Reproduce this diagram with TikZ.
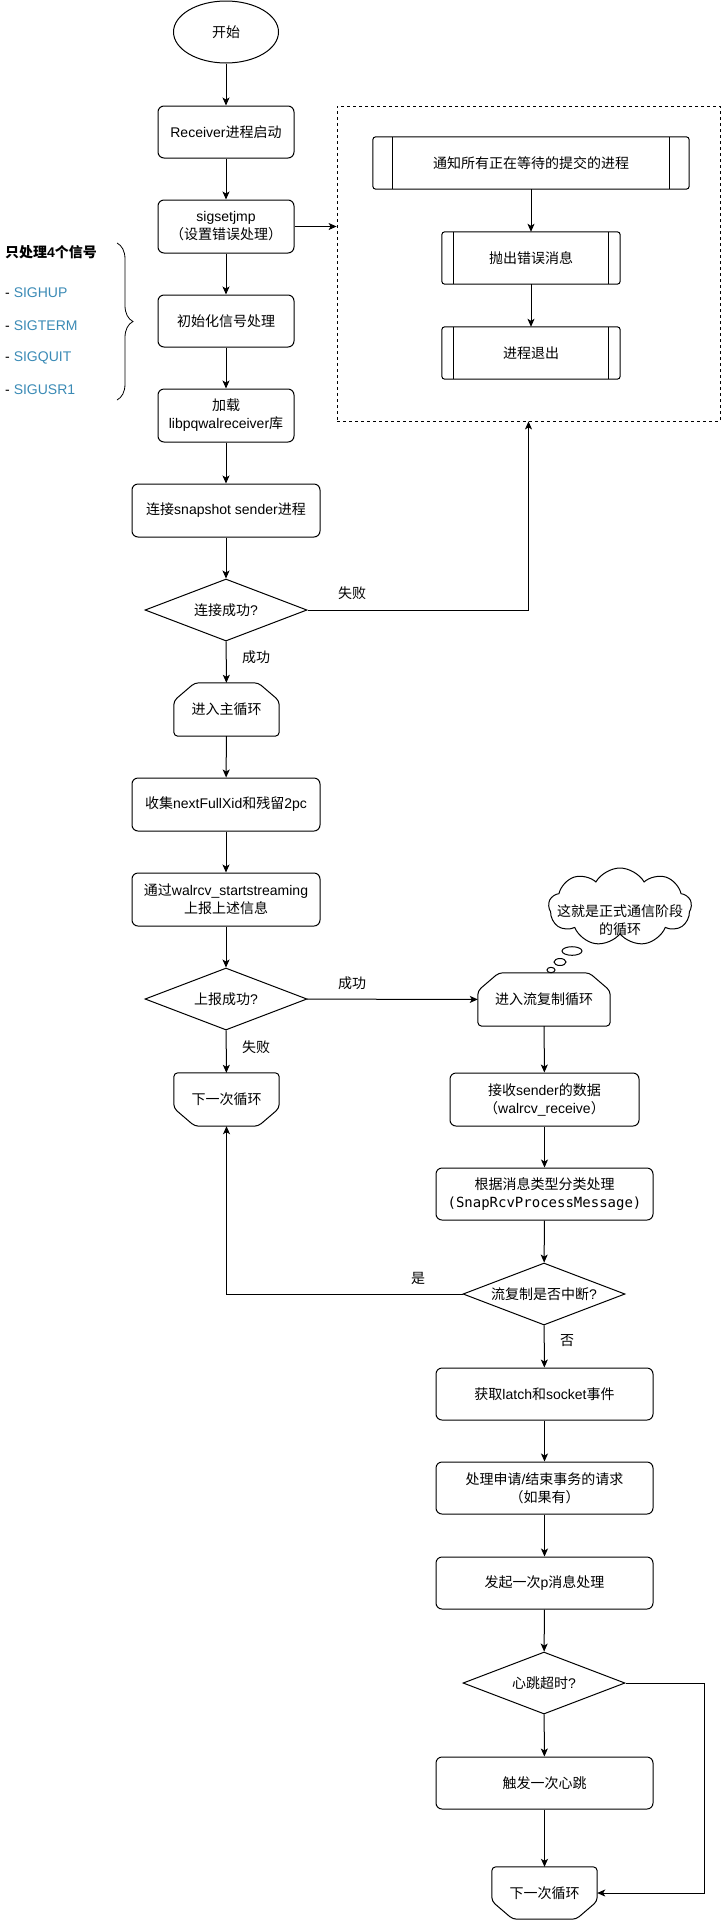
\documentclass[tikz,border=0pt]{standalone}
\usepackage{fontspec}
\setmainfont{Liberation Sans}
\newfontfamily\cjk{Noto Sans CJK SC}
\newfontfamily\monof{DejaVu Sans Mono}
\usetikzlibrary{arrows.meta,shapes.geometric,shapes.symbols,decorations.pathreplacing,calc}
\newcommand\zh[1]{{\cjk #1}}
\definecolor{sigblue}{RGB}{58,138,181}
\tikzset{
  every node/.style={font=\fontsize{14}{18}\selectfont},
  proc/.style={draw, rounded corners=6pt, align=center, minimum height=52pt, inner sep=2pt, line width=1pt},
  dec/.style={diamond, draw, aspect=2.6, minimum width=162pt, minimum height=62pt, inner sep=0pt, line width=1pt},
  ghost/.style={align=center, minimum height=53pt, inner sep=0pt},
  lbl/.style={inner sep=1pt},
  arr/.style={-{Stealth[length=8pt,width=7pt,inset=2pt]}, line width=1pt},
  ln/.style={line width=1pt},
}
\newcommand\looptop[1]{\draw[ln, rounded corners=4pt] ($(#1.north west)+(21,0)$) -- ($(#1.north east)+(-21,0)$) -- ($(#1.north east)+(0,18)$) -- (#1.south east) -- (#1.south west) -- ($(#1.north west)+(0,18)$) -- cycle;}
\newcommand\loopbot[1]{\draw[ln, rounded corners=4pt] (#1.north west) -- (#1.north east) -- ($(#1.south east)+(0,-18)$) -- ($(#1.south east)+(-21,0)$) -- ($(#1.south west)+(21,0)$) -- ($(#1.south west)+(0,-18)$) -- cycle;}
\newcommand\subp[2]{\draw[ln, rounded corners=3pt] (#1.north west) rectangle (#1.south east);
  \draw[ln] ($(#1.north west)+(#2,0)$) -- ($(#1.south west)+(#2,0)$);
  \draw[ln] ($(#1.north east)+(-#2,0)$) -- ($(#1.south east)+(-#2,0)$);}
\begin{document}
\begin{tikzpicture}[x=1pt,y=-1pt]
\useasboundingbox (0,0) rectangle (721,1920);

% main column
\node[ellipse, draw, line width=1pt, minimum width=105pt, minimum height=62pt] (start) at (226,32) {\zh{开始}};
\node[proc, minimum width=136pt] (recv) at (226,132) {Receiver\zh{进程启动}};
\node[proc, minimum width=136pt, minimum height=53pt] (sig) at (226,226.5) {sigsetjmp\\\zh{（设置错误处理）}};
\node[proc, minimum width=136pt] (init) at (226,321) {\zh{初始化信号处理}};
\node[proc, minimum width=136pt, minimum height=53pt] (load) at (226,415.5) {\zh{加载}\\libpqwalreceiver\zh{库}};
\node[proc, minimum width=188pt, minimum height=53pt] (conn) at (226,510.5) {\zh{连接}snapshot sender\zh{进程}};
\node[dec] (d1) at (226,610) {\zh{连接成功}?};
\node[ghost, minimum width=105pt] (mainloop) at (226.5,709.5) {\zh{进入主循环}};
\looptop{mainloop}
\node[proc, minimum width=188pt, minimum height=53pt] (collect) at (226,804.5) {\zh{收集}nextFullXid\zh{和残留}2pc};
\node[proc, minimum width=188pt, minimum height=53pt] (report) at (226,899.5) {\zh{通过}walrcv\_startstreaming\\\zh{上报上述信息}};
\node[dec] (d2) at (226,999) {\zh{上报成功}?};
\node[ghost, minimum width=105pt] (next1) at (226.5,1099.5) {\zh{下一次循环}};
\loopbot{next1}

% right column
\node[ghost, minimum width=132pt] (stream) at (544,999.5) {\zh{进入流复制循环}};
\looptop{stream}
\node[proc, minimum width=189pt, minimum height=53pt] (recv2) at (544.5,1099.5) {\zh{接收}sender\zh{的数据}\\\zh{（}walrcv\_receive\zh{）}};
\node[proc, minimum width=217pt] (procm) at (544.5,1194) {\zh{根据消息类型分类处理}\\{\monof (SnapRcvProcessMessage)}};
\node[dec] (d3) at (544,1294) {\zh{流复制是否中断}?};
\node[proc, minimum width=217pt] (latch) at (544.5,1394) {\zh{获取}latch\zh{和}socket\zh{事件}};
\node[proc, minimum width=217pt] (req) at (544.5,1488) {\zh{处理申请}/\zh{结束事务的请求}\\\zh{（如果有）}};
\node[proc, minimum width=217pt] (pmsg) at (544.5,1583) {\zh{发起一次}p\zh{消息处理}};
\node[dec] (d4) at (544,1683) {\zh{心跳超时}?};
\node[proc, minimum width=217pt] (hb) at (544.5,1783) {\zh{触发一次心跳}};
\node[ghost, minimum width=105pt, minimum height=52pt] (next2) at (544.5,1893) {\zh{下一次循环}};
\loopbot{next2}
\coordinate (rr) at (704,1683);

% dashed error box
\node[draw, dashed, line width=0.8pt, minimum width=383pt, minimum height=315pt, inner sep=0pt] (dbox) at (528.5,263.5) {};
\node[minimum width=316pt, minimum height=52pt, inner sep=0pt] (n1) at (531,163) {\zh{通知所有正在等待的提交的进程}};
\subp{n1}{20}
\node[minimum width=178pt, minimum height=52pt, inner sep=0pt] (n2) at (531,258) {\zh{抛出错误消息}};
\subp{n2}{12}
\node[minimum width=178pt, minimum height=52pt, inner sep=0pt] (n3) at (531,353) {\zh{进程退出}};
\subp{n3}{12}

% cloud
\node[cloud, draw, line width=1pt, cloud puffs=9, cloud puff arc=120, cloud ignores aspect, minimum width=143pt, minimum height=78pt, inner sep=0pt] (cloud) at (620,907) {};
\node[align=center, inner sep=0pt] (cloudtxt) at (620,920.5) {\zh{这就是正式通信阶段}\\\zh{的循环}};
\draw[ln] (572,951) ellipse [x radius=10, y radius=4.3];
\draw[ln] (560,962) ellipse [x radius=6, y radius=3.5];
\draw[ln] (551,970) ellipse [x radius=4, y radius=2.7];

% left notes
\node[anchor=west, inner sep=0pt] (sigt) at (5,252) {\bfseries\zh{只处理}4\zh{个信号}};
\node[anchor=west, inner sep=0pt] (s1) at (5,293) {- \textcolor{sigblue}{SIGHUP}};
\node[anchor=west, inner sep=0pt] (s2) at (5,326) {- \textcolor{sigblue}{SIGTERM}};
\node[anchor=west, inner sep=0pt] (s3) at (5,358) {- \textcolor{sigblue}{SIGQUIT}};
\node[anchor=west, inner sep=0pt] (s4) at (5,390) {- \textcolor{sigblue}{SIGUSR1}};
\draw[line width=0.8pt, decorate, decoration={brace, amplitude=16pt}] (117,243) -- (117,400);

% connectors
\draw[arr] (start) -- (recv);
\draw[arr] (recv) -- (sig);
\draw[arr] (sig) -- (init);
\draw[arr] (init) -- (load);
\draw[arr] (load) -- (conn);
\draw[arr] (conn) -- (d1);
\draw[arr] (d1) -- (mainloop);
\draw[arr] (mainloop) -- (collect);
\draw[arr] (collect) -- (report);
\draw[arr] (report) -- (d2);
\draw[arr] (d2) -- (next1);
\draw[arr] (d2) -- (stream);
\draw[arr] (stream) -- (recv2);
\draw[arr] (recv2) -- (procm);
\draw[arr] (procm) -- (d3);
\draw[arr] (d3.west) -| (next1.south);
\draw[arr] (d3) -- (latch);
\draw[arr] (latch) -- (req);
\draw[arr] (req) -- (pmsg);
\draw[arr] (pmsg) -- (d4);
\draw[arr] (d4) -- (hb);
\draw[arr] (hb) -- (next2);
\draw[arr] (d4.east) -- (rr) |- (next2.east);
\draw[arr] (sig.east) -- (sig.east -| dbox.west);
\draw[arr] (d1.east) -| (dbox.south);
\draw[arr] (n1) -- (n2);
\draw[arr] (n2) -- (n3);

% labels
\node[lbl] (l1) at (352,593) {\zh{失败}};
\node[lbl] (l2) at (256,657) {\zh{成功}};
\node[lbl] (l3) at (352,983) {\zh{成功}};
\node[lbl] (l4) at (256,1047) {\zh{失败}};
\node[lbl] (l5) at (418,1278) {\zh{是}};
\node[lbl] (l6) at (567,1341) {\zh{否}};
\end{tikzpicture}
\end{document}
